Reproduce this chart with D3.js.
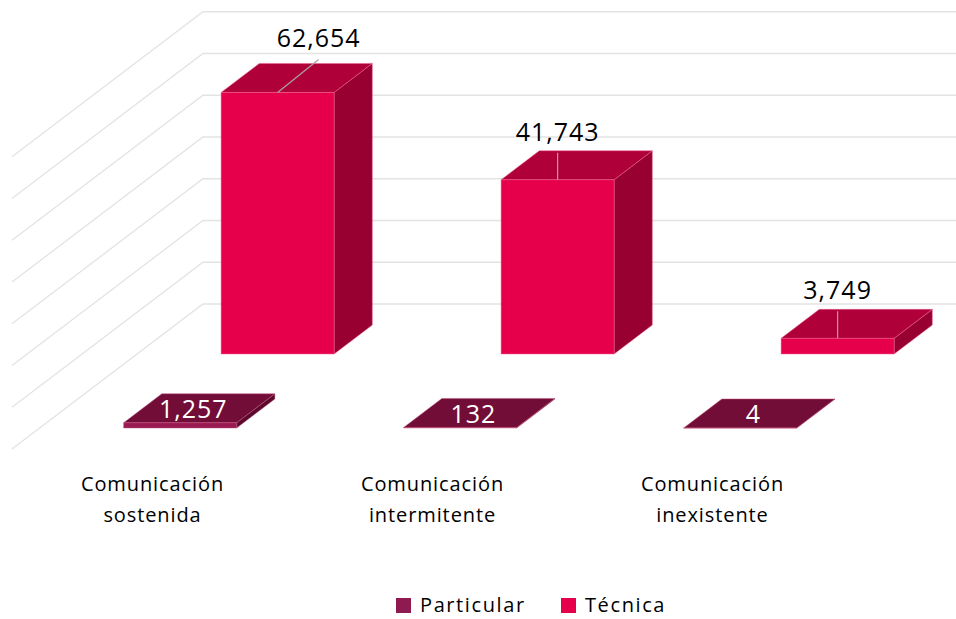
<!DOCTYPE html>
<meta charset="utf-8">
<style>
body { margin: 0; background: #fff; }
svg text { font-family: "Open Sans", sans-serif; font-weight: 500; }
.grid { stroke: #e3e3e3; stroke-width: 1.3px; fill: none; }
.lead { stroke: #a6a6a6; stroke-width: 1.2px; }
.face { stroke-width: 0.8px; stroke-opacity: 0.6; }
</style>
<body>
<script src="https://cdn.jsdelivr.net/npm/d3@7"></script>
<svg id="chart" width="956" height="619"></svg>
<script>

var categories = ["Comunicación sostenida", "Comunicación intermitente", "Comunicación inexistente"];
var series = ["Particular", "Técnica"];
var particular = [1257, 132, 4];
var tecnica = [62654, 41743, 3749];
var valueTicks = [0, 10000, 20000, 30000, 40000, 50000, 60000, 70000];

// oblique 3d layout (depth measured in pixels of vertical shift)
var floorY = 449,
    slant = 1.317,
    wallX = 12,
    depthBack = 145,
    barWidth = 113;

var rows = [
  {name: "Particular", values: particular, z0: 21, z1: 50,
   front: "#9a1a52", top: "#720d37", side: "#5c0a2c", edge: "#c0577f"},
  {name: "Técnica", values: tecnica, z0: 95, z1: 124,
   front: "#e6004c", top: "#b0003a", side: "#990032", edge: "#f0608e"}
];

var svg = d3.select("#chart");

var x = d3.scalePoint()
    .domain(categories)
    .range([152.5, 712.5]);

var y = d3.scaleLinear()
    .domain([0, 70000])
    .range([0, 292.25]);

function project(px, z, v) {
  return [px + slant * z, floorY - z - y(v)];
}

var line = d3.line();

// gridlines: back wall and left wall
var grid = svg.append("g");
valueTicks.forEach(function(t) {
  var a = project(wallX, 0, t),
      b = project(wallX, depthBack, t);
  grid.append("path").attr("class", "grid").attr("d", line([a, b, [956, b[1]]]));
});

// bars, back row first
rows.slice().reverse().forEach(function(row) {
  var g = svg.append("g");
  categories.forEach(function(c, i) {
    var v = row.values[i],
        x0 = x(c) - barWidth / 2,
        x1 = x(c) + barWidth / 2;
    var front = [project(x0, row.z0, 0), project(x1, row.z0, 0), project(x1, row.z0, v), project(x0, row.z0, v)];
    var side = [project(x1, row.z0, 0), project(x1, row.z1, 0), project(x1, row.z1, v), project(x1, row.z0, v)];
    var top = [project(x0, row.z0, v), project(x1, row.z0, v), project(x1, row.z1, v), project(x0, row.z1, v)];
    [[side, row.side], [top, row.top], [front, row.front]].forEach(function(f) {
      g.append("path")
          .attr("class", "face")
          .attr("d", line(f[0]) + "Z")
          .attr("fill", f[1])
          .attr("stroke", row.edge);
    });
  });
});

// Técnica value labels with leader lines
var labelNudge = [[41, -6], [0, 0], [0, 0]];
categories.forEach(function(c, i) {
  var v = tecnica[i];
  var ft = project(x(c), 95, v),
      bt = project(x(c), 124, v);
  var lx = ft[0] + labelNudge[i][0],
      ly = bt[1] - 10 + labelNudge[i][1];
  svg.append("line").attr("class", "lead")
      .attr("x1", ft[0]).attr("y1", ft[1])
      .attr("x2", lx).attr("y2", ly + 12);
  svg.append("text")
      .attr("x", lx).attr("y", ly)
      .attr("text-anchor", "middle")
      .style("font-size", "25px")
      .style("letter-spacing", "1px")
      .attr("fill", "#000")
      .text(d3.format(",")(v));
});

// Particular value labels on top face
categories.forEach(function(c, i) {
  var v = particular[i];
  var p = project(x(c), 31, v),
      q = project(x(c), 35.5, v);
  svg.append("text")
      .attr("x", p[0]).attr("y", q[1] + 10)
      .attr("text-anchor", "middle")
      .style("font-size", "25px")
      .style("letter-spacing", "1px")
      .attr("fill", "#fff")
      .text(d3.format(",")(v));
});

// category labels
categories.forEach(function(c) {
  var words = c.split(" ");
  var t = svg.append("text")
      .attr("text-anchor", "middle")
      .style("font-size", "20px")
      .style("letter-spacing", "0.9px")
      .attr("fill", "#000");
  words.forEach(function(w, k) {
    t.append("tspan").attr("x", x(c)).attr("y", 491 + k * 31).text(w);
  });
});

// legend
var legend = svg.append("g");
var legendX = [396, 561];
series.forEach(function(s, i) {
  legend.append("rect")
      .attr("x", legendX[i]).attr("y", 598)
      .attr("width", 15).attr("height", 15)
      .attr("fill", i == 0 ? "#8e1a50" : "#e6004c");
  legend.append("text")
      .attr("x", legendX[i] + 24).attr("y", 612)
      .style("font-size", "20px")
      .style("letter-spacing", "1.6px")
      .attr("fill", "#000")
      .text(s);
});

</script>
</body>
